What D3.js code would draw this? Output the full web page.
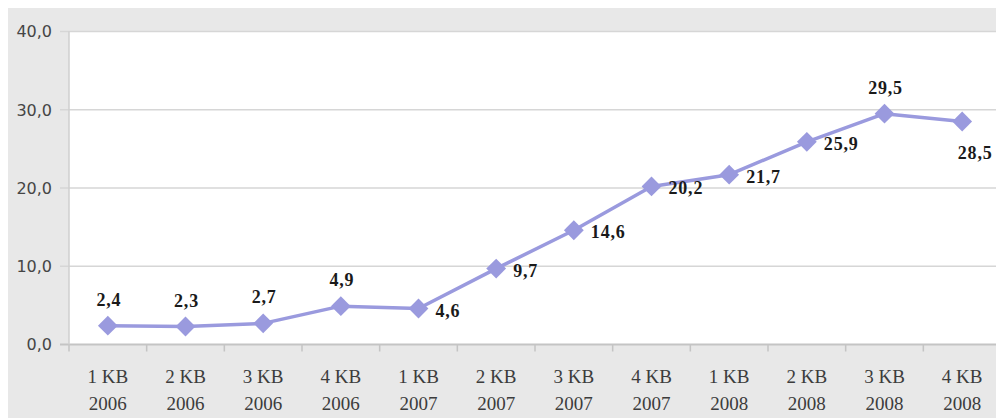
<!DOCTYPE html>
<html>
<head>
<meta charset="utf-8">
<script src="https://cdn.jsdelivr.net/npm/d3@7"></script>
<style>
  html, body { margin: 0; padding: 0; background: #fff; }
  svg { display: block; }
</style>
</head>
<body>
<svg id="chart"></svg>
<script>
// data
const quarters = ["1 KB", "2 KB", "3 KB", "4 KB", "1 KB", "2 KB", "3 KB", "4 KB", "1 KB", "2 KB", "3 KB", "4 KB"]
const years = ["2006", "2006", "2006", "2006", "2007", "2007", "2007", "2007", "2008", "2008", "2008", "2008"]
const values = [2.4, 2.3, 2.7, 4.9, 4.6, 9.7, 14.6, 20.2, 21.7, 25.9, 29.5, 28.5]
const yTicks = [0, 10, 20, 30, 40]
// where each data label sits relative to its marker
const labelPos = ["above", "above", "above", "above", "right", "right", "right", "right", "right", "right", "above", "below"]

const width = 996, height = 419
const plot = {left: 69, top: 31.5, right: 1001, bottom: 344.5}

const svg = d3.select("#chart")
  .attr("width", width)
  .attr("height", height)

// outer gray frame
svg.append("rect")
  .attr("x", 8).attr("y", 8)
  .attr("width", width - 8).attr("height", 410)
  .attr("fill", "#e8e8e8")

svg.append("rect")
  .attr("x", plot.left).attr("y", plot.top)
  .attr("width", plot.right - plot.left).attr("height", plot.bottom - plot.top)
  .attr("fill", "#fff")

const cats = values.map((d, i) => i)

const x = d3.scaleBand()
  .domain(cats)
  .range([plot.left, plot.right])

const y = d3.scaleLinear()
  .domain([0, 40])
  .range([plot.bottom, plot.top])

const fmt = v => d3.format(".1f")(v).replace(".", ",")

// gridlines + y labels
const grid = svg.append("g")
grid.selectAll("line")
  .data(yTicks)
  .enter().append("line")
  .attr("x1", plot.left - 9)
  .attr("x2", plot.right)
  .attr("y1", d => y(d))
  .attr("y2", d => y(d))
  .attr("stroke", d => d === 0 ? "#c4c4c4" : "#d6d6d6")
  .attr("stroke-width", d => d === 0 ? 2 : 1.5)

grid.selectAll("text")
  .data(yTicks)
  .enter().append("text")
  .attr("x", 52)
  .attr("y", d => y(d))
  .attr("dy", "0.36em")
  .attr("text-anchor", "end")
  .attr("font-family", "DejaVu Sans, sans-serif")
  .attr("font-size", 16)
  .attr("fill", "#454545")
  .text(d => fmt(d))

// left axis line
svg.append("line")
  .attr("x1", plot.left).attr("x2", plot.left)
  .attr("y1", plot.top).attr("y2", plot.bottom)
  .attr("stroke", "#cfcfcf")
  .attr("stroke-width", 1.5)

// bottom ticks at category boundaries
const bounds = cats.map(i => x(i)).concat([plot.right])
svg.append("g").selectAll("line")
  .data(bounds)
  .enter().append("line")
  .attr("x1", d => d).attr("x2", d => d)
  .attr("y1", plot.bottom).attr("y2", plot.bottom + 7)
  .attr("stroke", "#c4c4c4")
  .attr("stroke-width", 1.5)

// x labels (two lines)
const xl = svg.append("g")
  .attr("font-family", "Liberation Serif, Times New Roman, serif")
  .attr("font-size", 19)
  .attr("fill", "#3c3c3c")
  .attr("text-anchor", "middle")

xl.selectAll("text.q")
  .data(cats)
  .enter().append("text")
  .attr("class", "q")
  .attr("x", d => x(d) + x.bandwidth() / 2)
  .attr("y", 383)
  .text(d => quarters[d])

xl.selectAll("text.yr")
  .data(cats)
  .enter().append("text")
  .attr("class", "yr")
  .attr("x", d => x(d) + x.bandwidth() / 2)
  .attr("y", 410)
  .text(d => years[d])

// series line
const cx = i => x(i) + x.bandwidth() / 2

const line = d3.line()
  .x((d, i) => cx(i))
  .y(d => y(d))

svg.append("path")
  .datum(values)
  .attr("d", line)
  .attr("fill", "none")
  .attr("stroke", "#9a9ade")
  .attr("stroke-width", 3.5)
  .attr("stroke-linejoin", "round")

svg.append("g").selectAll("path")
  .data(values)
  .enter().append("path")
  .attr("transform", (d, i) => `translate(${cx(i)},${y(d)})`)
  .attr("d", d3.symbol().type(d3.symbolDiamond2).size(250))
  .attr("fill", "#9a9ade")

// data labels
function labelX(d, i) {
  const p = labelPos[i]
  if (p === "right") return cx(i) + 17
  if (p === "below") return cx(i) + 13
  return cx(i) + 1
}
function labelY(d, i) {
  const p = labelPos[i]
  if (p === "right") return y(d) + 8
  if (p === "below") return y(d) + 38
  return y(d) - 20
}

svg.append("g").selectAll("text")
  .data(values)
  .enter().append("text")
  .attr("x", labelX)
  .attr("y", labelY)
  .attr("text-anchor", (d, i) => labelPos[i] === "right" ? "start" : "middle")
  .attr("font-family", "Liberation Serif, Times New Roman, serif")
  .attr("font-weight", "bold")
  .attr("font-size", 18)
  .attr("letter-spacing", 0.8)
  .attr("fill", "#1a1a1a")
  .text(d => fmt(d))
</script>
</body>
</html>
